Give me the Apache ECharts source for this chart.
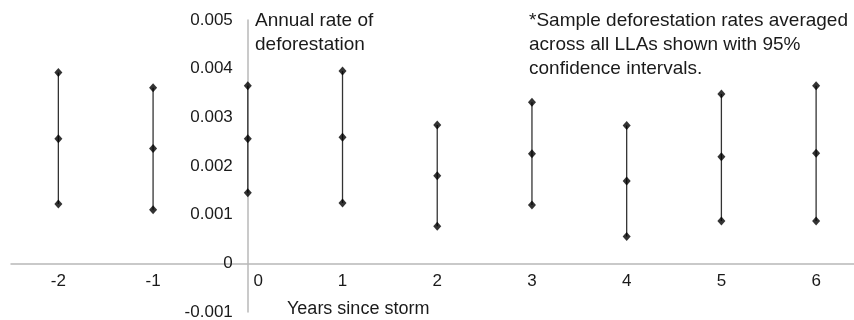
<!DOCTYPE html>
<html>
<head>
<meta charset="utf-8">
<script src="https://cdn.jsdelivr.net/npm/echarts@6/dist/echarts.min.js"></script>
<style>
html,body{margin:0;padding:0;background:#fff;}
#chart{width:854px;height:320px;}
</style>
</head>
<body>
<div id="chart"></div>
<script>
// Years since storm
var years = [-2, -1, 0, 1, 2, 3, 4, 5, 6];
// Upper 95% CI, mean, lower 95% CI of annual deforestation rate
var upper = [0.00392, 0.00361, 0.00365, 0.00395, 0.00284, 0.00331, 0.00283, 0.00348, 0.00365];
var mean  = [0.00256, 0.00236, 0.00256, 0.00259, 0.00180, 0.00225, 0.00169, 0.00219, 0.00226];
var lower = [0.00122, 0.00110, 0.00145, 0.00124, 0.00076, 0.00120, 0.00055, 0.00087, 0.00087];
var yTicks = [-0.001, 0, 0.001, 0.002, 0.003, 0.004, 0.005];
var yTitle = 'Annual rate of\ndeforestation';
var xTitle = 'Years since storm';
var note = '*Sample deforestation rates averaged\nacross all LLAs shown with 95%\nconfidence intervals.';

var barData = years.map(function (y, i) { return [y, lower[i], upper[i]]; });
var pointData = [];
years.forEach(function (y, i) {
  pointData.push([y, upper[i]]);
  pointData.push([y, mean[i]]);
  pointData.push([y, lower[i]]);
});

var W = 854, H = 320;
var G = {left: 11, right: 0, top: 20, bottom: 8};
var XMIN = -2.5, XMAX = 6.4;
var YMIN = yTicks[0], YMAX = yTicks[yTicks.length - 1];
var gw = W - G.left - G.right, gh = H - G.top - G.bottom;
// place axes where the other axis crosses zero
var yAxisOffset = -((0 - XMIN) / (XMAX - XMIN)) * gw;
var xAxisOffset = -((0 - YMIN) / (YMAX - YMIN)) * gh;

var chart = echarts.init(document.getElementById('chart'), null, {renderer: 'canvas'});
var FONT = 'Liberation Sans, Arial, sans-serif';
var TXT = '#1a1a1a';
chart.setOption({
  animation: false,
  grid: {left: G.left, right: G.right, top: G.top, bottom: G.bottom, containLabel: false, outerBoundsMode: 'none'},
  xAxis: {
    type: 'value',
    min: XMIN,
    max: XMAX,
    minInterval: 1,
    maxInterval: 1,
    position: 'bottom',
    offset: xAxisOffset,
    splitLine: {show: false},
    axisTick: {show: false},
    axisLine: {onZero: false, lineStyle: {color: '#b8b8b8', width: 1.5}},
    axisLabel: {
      margin: 9,
      fontSize: 17,
      fontFamily: FONT,
      color: TXT,
      formatter: function (v) {
        if (Math.abs(v - Math.round(v)) > 1e-9) return '';
        if (Math.round(v) === 0) return '{z|0}';
        return String(Math.round(v));
      },
      rich: {z: {padding: [0, 0, 0, 21], fontSize: 17, fontFamily: FONT, color: TXT}}
    }
  },
  yAxis: {
    type: 'value',
    min: YMIN,
    max: YMAX,
    interval: 0.001,
    position: 'left',
    offset: yAxisOffset,
    splitLine: {show: false},
    axisTick: {show: false},
    axisLine: {show: true, onZero: false, lineStyle: {color: '#b8b8b8', width: 1.5}},
    axisLabel: {
      margin: 15,
      fontSize: 17,
      fontFamily: FONT,
      color: TXT,
      formatter: function (v) { return String(+v.toFixed(3)); }
    }
  },
  graphic: [
    {type: 'text', left: 255, top: 9, style: {text: yTitle, font: '19px ' + FONT, fill: TXT, lineHeight: 24}},
    {type: 'text', left: 529, top: 9, style: {text: note, font: '19px ' + FONT, fill: TXT, lineHeight: 24}},
    {type: 'text', left: 287, top: 300, style: {text: xTitle, font: '18px ' + FONT, fill: TXT}}
  ],
  series: [
    {
      type: 'custom',
      data: barData,
      encode: {x: 0, y: [1, 2]},
      renderItem: function (params, api) {
        var p1 = api.coord([api.value(0), api.value(1)]);
        var p2 = api.coord([api.value(0), api.value(2)]);
        return {
          type: 'line',
          shape: {x1: p1[0], y1: p1[1], x2: p2[0], y2: p2[1]},
          style: {stroke: '#333', lineWidth: 1.3}
        };
      },
      z: 2
    },
    {
      type: 'scatter',
      data: pointData,
      symbol: 'diamond',
      symbolSize: [8, 9],
      itemStyle: {color: '#000'},
      z: 3
    }
  ]
});
</script>
</body>
</html>
